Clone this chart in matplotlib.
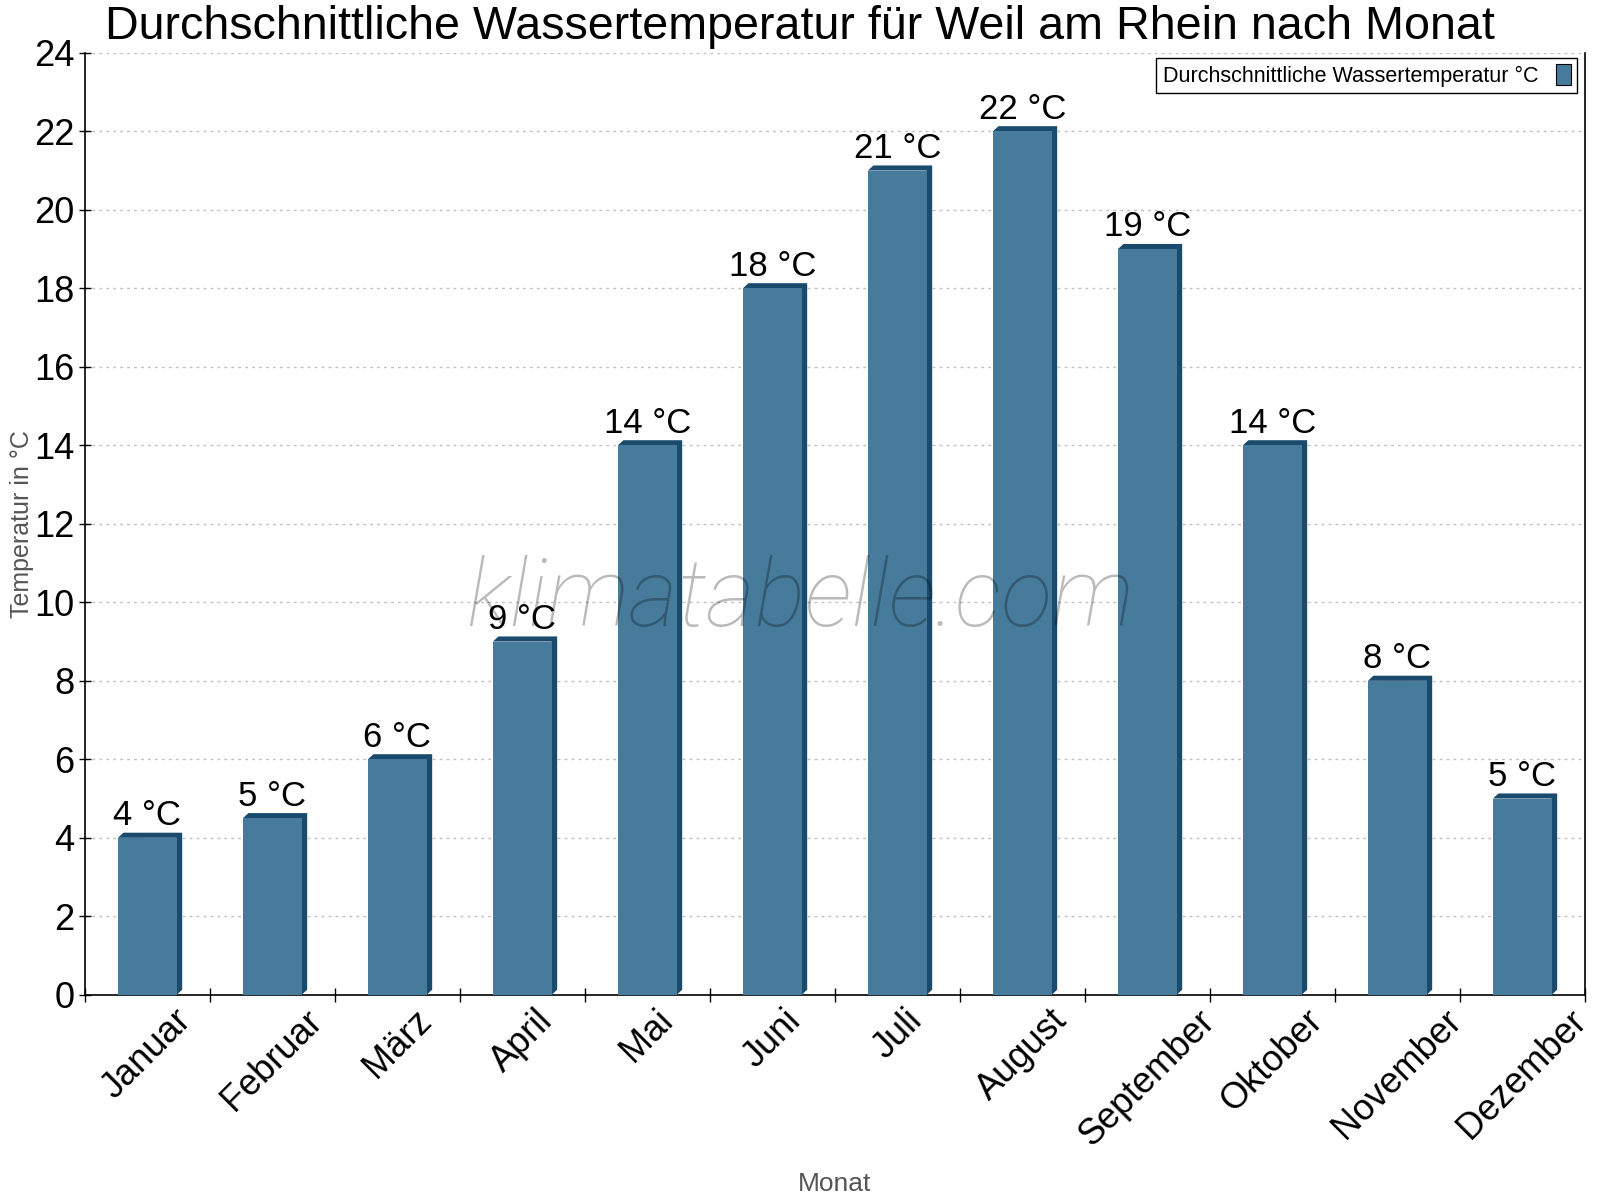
import matplotlib
matplotlib.use("Agg")
import matplotlib.pyplot as plt
from matplotlib.patches import Polygon, Patch

plt.rcParams['font.family'] = ['Liberation Sans', 'DejaVu Sans']

months = ['Januar', 'Februar', 'März', 'April', 'Mai', 'Juni', 'Juli',
          'August', 'September', 'Oktober', 'November', 'Dezember']
water_temp = [4, 4.5, 6, 9, 14, 18, 21, 22, 19, 14, 8, 5]
value_labels = ['4 °C', '5 °C', '6 °C', '9 °C', '14 °C', '18 °C', '21 °C',
                '22 °C', '19 °C', '14 °C', '8 °C', '5 °C']

front_col = '#467b9c'
side_col = '#1a4b6c'

fig = plt.figure(figsize=(16, 12), dpi=100)
ax = fig.add_axes([0.053, 0.171, 0.9375, 0.785])

x = list(range(len(months)))
w = 0.47
dx, dy = 0.044, 0.13  # 3d depth in data units

ax.bar(x, water_temp, width=w, color=front_col, zorder=3)
for xi, v in zip(x, water_temp):
    l, r = xi - w / 2, xi + w / 2
    poly = Polygon([(l, v), (l + dx, v + dy), (r + dx, v + dy), (r + dx, dy), (r, 0), (r, v)],
                   closed=True, facecolor=side_col, edgecolor='none', zorder=2.9)
    ax.add_patch(poly)

for xi, v, t in zip(x, water_temp, value_labels):
    ax.annotate(t, (xi, v), xytext=(0, 4), textcoords='offset points',
                ha='center', va='bottom', fontsize=25, zorder=5)

ax.set_xlim(-0.5, 11.5)
ax.set_ylim(0, 24)
ax.set_yticks(range(0, 25, 2))
ax.set_xticks([i - 0.5 for i in range(13)])
ax.set_xticklabels([])
ax.set_xticks(x, minor=True)
ax.set_xticklabels(months, minor=True, rotation=45, ha='center', fontsize=26)
ax.tick_params(axis='x', which='minor', length=0, pad=6)
ax.tick_params(axis='x', which='major', direction='inout', length=10, width=1)
ax.tick_params(axis='y', direction='inout', length=8, width=1, labelsize=26)

ax.grid(axis='y', linestyle=(0, (2, 3)), color='#c0c0c0', linewidth=1, zorder=0)
ax.set_axisbelow(True)
ax.spines['top'].set_visible(False)
for s in ['left', 'bottom', 'right']:
    ax.spines[s].set_linewidth(1.2)

ax.set_ylabel('Temperatur in °C', fontsize=18, color='#555555', labelpad=0)
ax.set_xlabel('Monat', fontsize=19, color='#555555', labelpad=14)
fig.text(0.5, 0.996, 'Durchschnittliche Wassertemperatur für Weil am Rhein nach Monat',
         fontsize=33.6, ha='center', va='top')

# watermark
fig.text(0.5, 0.478, 'klimatabelle.com', fontsize=68, family=['Roboto', 'DejaVu Sans'],
         weight='light', style='italic', color='black', alpha=0.27,
         ha='center', va='baseline', zorder=6)

handle = Patch(facecolor=front_col, edgecolor='black', linewidth=0.8)
leg = ax.legend([handle], ['Durchschnittliche Wassertemperatur °C'], loc='upper right',
                fontsize=15.5, markerfirst=False, fancybox=False, framealpha=1,
                edgecolor='black', handlelength=0.7, handleheight=1.1, borderpad=0.3,
                bbox_to_anchor=(1.002, 1.006))
leg.get_frame().set_linewidth(1)

fig.savefig('out.png', dpi=100)
